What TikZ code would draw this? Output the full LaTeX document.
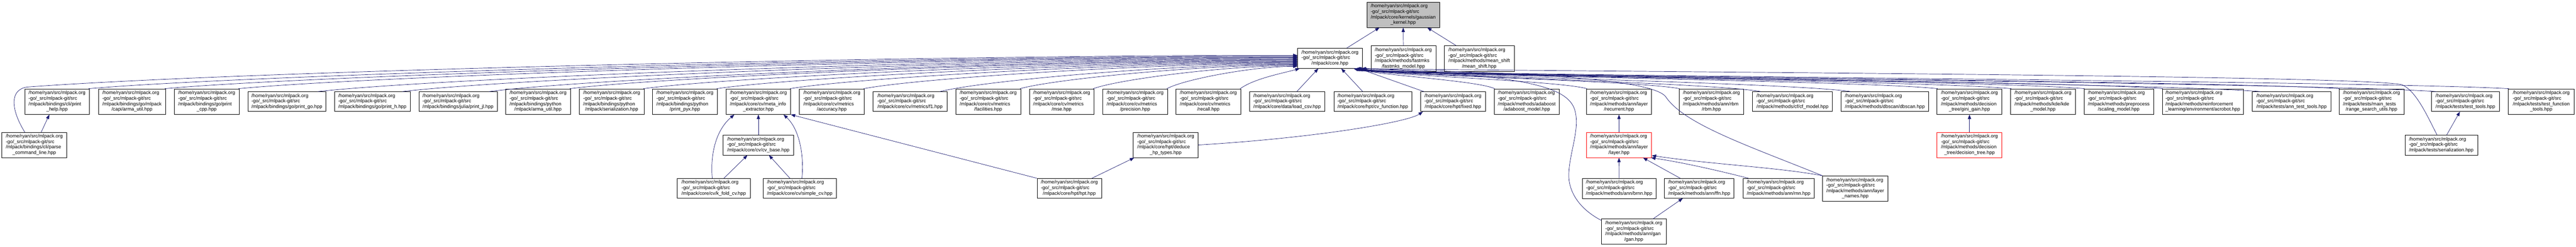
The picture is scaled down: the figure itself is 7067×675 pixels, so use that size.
\documentclass[tikz,border=0pt]{standalone}
\usepackage{fontspec}
\setmainfont{Liberation Sans}
\usetikzlibrary{arrows.meta,calc}
\definecolor{edgeblue}{RGB}{25,25,112}
\definecolor{gkgrey}{RGB}{191,191,191}
\newcommand\fsz{\fontsize{13.25pt}{14.9pt}\selectfont}
\newcommand\ftext[2]{\begin{tabular}{@{}l@{}}/home/ryan/src/mlpack.org\\-go/\_src/mlpack-git/src#1\\\multicolumn{1}{@{}c@{}}{#2}\end{tabular}}
\newcommand\fnode[8][]{\node[fbox,#1,minimum width=#5,minimum height=#6] (#2) at (#3,#4) {\ftext{#7}{#8}};}
\newcommand\ledge[3]{\draw[edge] let \p1=($(#1.north east)+(#2,0)$), \p2=($(core.west)+(0,#3)$) in (\p1) .. controls ({\x1+0.12*(\x2-\x1)},{\y1+0.4*(\y2-\y1)}) and ({\x2-0.35*(\x2-\x1)},{\y2}) .. (\p2);}
\newcommand\redge[3]{\draw[edge] let \p1=($(#1.north west)+(#2,0)$), \p2=($(core.south east)+(#3,0)$) in (\p1) .. controls ({\x1-0.12*(\x1-\x2)},{\y1+0.4*(\y2-\y1)}) and ({\x2+70pt},{\y2-18pt}) .. (\p2);}
\begin{document}
\begin{tikzpicture}[x=1pt,y=-1pt,
  fbox/.style={draw=black, fill=white, line width=0.9pt, inner sep=0pt, font=\fsz},
  edge/.style={draw=edgeblue, line width=1pt, -{Triangle[length=12pt,width=9pt]}}]
\fill[white] (0,0) rectangle (7067,675);
\useasboundingbox (0,0) rectangle (7067,675);
% row 0
\fnode[fill=gkgrey]{gk}{3849.5}{40.5}{199}{69}{\\/mlpack/core/kernels/gaussian}{\_kernel.hpp}
% row 1
\fnode{core}{3648.5}{159.5}{177}{55}{}{/mlpack/core.hpp}
\fnode{fastmks}{3850}{160}{178}{70}{\\/mlpack/methods/fastmks}{/fastmks\_model.hpp}
\fnode{meanshift}{4058}{160}{192}{70}{\\/mlpack/methods/mean\_shift}{/mean\_shift.hpp}
% row 2
\fnode{phelp}{156.4}{278}{177}{70}{\\/mlpack/bindings/cli/print}{\_help.hpp}
\fnode{goarma}{362}{278}{184}{70}{\\/mlpack/bindings/go/mlpack}{/capi/arma\_util.hpp}
\fnode{gocpp}{567}{278}{178}{70}{\\/mlpack/bindings/go/print}{\_cpp.hpp}
\fnode{printgo}{787}{278}{214}{54}{}{/mlpack/bindings/go/print\_go.hpp}
\fnode{printh}{1021.5}{278}{207}{54}{}{/mlpack/bindings/go/print\_h.hpp}
\fnode{printjl}{1256.5}{278}{215}{54}{}{/mlpack/bindings/julia/print\_jl.hpp}
\fnode{pyarma}{1476}{278}{178}{70}{\\/mlpack/bindings/python}{/mlpack/arma\_util.hpp}
\fnode{pyser}{1678}{278}{178}{70}{\\/mlpack/bindings/python}{/mlpack/serialization.hpp}
\fnode{pyx}{1879}{278}{178}{70}{\\/mlpack/bindings/python}{/print\_pyx.hpp}
\fnode{meta}{2080.5}{278}{177}{70}{\\/mlpack/core/cv/meta\_info}{\_extractor.hpp}
\fnode{acc}{2282}{278}{178}{70}{\\/mlpack/core/cv/metrics}{/accuracy.hpp}
\fnode{f1}{2496.5}{278}{203}{54}{}{/mlpack/core/cv/metrics/f1.hpp}
\fnode{fac}{2711}{278}{178}{70}{\\/mlpack/core/cv/metrics}{/facilities.hpp}
\fnode{mse}{2912.5}{278}{177}{70}{\\/mlpack/core/cv/metrics}{/mse.hpp}
\fnode{prec}{3114}{278}{178}{70}{\\/mlpack/core/cv/metrics}{/precision.hpp}
\fnode{recall}{3315}{278}{178}{70}{\\/mlpack/core/cv/metrics}{/recall.hpp}
\fnode{loadcsv}{3531}{278}{206}{54}{}{/mlpack/core/data/load\_csv.hpp}
\fnode{cvfun}{3766}{278}{214}{54}{}{/mlpack/core/hpt/cv\_function.hpp}
\fnode{fixed}{3986}{278}{178}{54}{}{/mlpack/core/hpt/fixed.hpp}
\fnode{adaboost}{4188.5}{278}{179}{70}{\\/mlpack/methods/adaboost}{/adaboost\_model.hpp}
\fnode{recurrent}{4441.5}{278}{179}{70}{\\/mlpack/methods/ann/layer}{/recurrent.hpp}
\fnode{rbm}{4695}{278}{178}{70}{\\/mlpack/methods/ann/rbm}{/rbm.hpp}
\fnode{cfmodel}{4917.5}{278}{219}{54}{}{/mlpack/methods/cf/cf\_model.hpp}
\fnode{dbscan}{5171}{278}{240}{54}{}{/mlpack/methods/dbscan/dbscan.hpp}
\fnode{gini}{5403}{278}{178}{70}{\\/mlpack/methods/decision}{\_tree/gini\_gain.hpp}
\fnode{kde}{5604.5}{278}{177}{70}{\\/mlpack/methods/kde/kde}{\_model.hpp}
\fnode{scaling}{5812.5}{278}{191}{70}{\\/mlpack/methods/preprocess}{/scaling\_model.hpp}
\fnode{acrobot}{6043}{278}{222}{70}{\\/mlpack/methods/reinforcement}{\_learning/environment/acrobot.hpp}
\fnode{anntt}{6286.5}{278}{215}{54}{}{/mlpack/tests/ann\_test\_tools.hpp}
\fnode{rsu}{6506}{278}{178}{70}{\\/mlpack/tests/main\_tests}{/range\_search\_utils.hpp}
\fnode{testtools}{6763.5}{278}{187}{54}{}{/mlpack/tests/test\_tools.hpp}
\fnode{tft}{6971.5}{278}{181}{70}{\\/mlpack/tests/test\_function}{\_tools.hpp}
% row 3
\fnode{pcl}{94}{396.5}{178}{69}{\\/mlpack/bindings/cli/parse}{\_command\_line.hpp}
\fnode{cvbase}{2080.5}{396.5}{193}{55}{}{/mlpack/core/cv/cv\_base.hpp}
\fnode{deduce}{3198}{396.5}{178}{69}{\\/mlpack/core/hpt/deduce}{\_hp\_types.hpp}
\fnode[draw=red]{layer}{4441.5}{396.5}{179}{69}{\\/mlpack/methods/ann/layer}{/layer.hpp}
\fnode[draw=red]{dtree}{5403}{396.5}{178}{69}{\\/mlpack/methods/decision}{\_tree/decision\_tree.hpp}
\fnode{ser}{6697.5}{396.5}{199}{55}{}{/mlpack/tests/serialization.hpp}
% row 4
\fnode{kfold}{1958}{515}{200}{54}{}{/mlpack/core/cv/k\_fold\_cv.hpp}
\fnode{simplecv}{2194}{515}{202}{54}{}{/mlpack/core/cv/simple\_cv.hpp}
\fnode{hpt}{2933.5}{515}{177}{54}{}{/mlpack/core/hpt/hpt.hpp}
\fnode{brnn}{4442}{515}{202}{55}{}{/mlpack/methods/ann/brnn.hpp}
\fnode{ffn}{4661.5}{515}{191}{54}{}{/mlpack/methods/ann/ffn.hpp}
\fnode{rnn}{4879.5}{515}{195}{54}{}{/mlpack/methods/ann/rnn.hpp}
\fnode{lnames}{5089.5}{515.5}{179}{69}{\\/mlpack/methods/ann/layer}{\_names.hpp}
% row 5
\fnode{gan}{4482}{633.5}{178}{69}{\\/mlpack/methods/ann/gan}{/gan.hpp}

% edges to gaussian kernel
\draw[edge] ($(core.north)+(46,0)$) -- ($(gk.south west)+(35,0)$);
\draw[edge] (fastmks.north) -- (gk.south);
\draw[edge] ($(meanshift.north west)+(33,0)$) -- ($(gk.south east)+(-34,0)$);
% near edges to core
\draw[edge] ($(loadcsv.north west)+(130,0)$) -- ($(core.south west)+(57,0)$);
\draw[edge] ($(cvfun.north west)+(80,0)$) -- ($(core.south west)+(120,0)$);
\draw[edge] ($(fixed.north west)+(10,0)$) -- ($(core.south east)+(-10,0)$);
% left edges to core
\draw[edge] ($(pcl.north)+(-26,0)$) .. controls (30,300) and (25,245) .. (75,238) .. controls (700,192) and (2600,150) .. ($(core.west)+(0,-8)$);
\ledge{phelp}{-2}{-6}
\ledge{goarma}{-2}{-4}
\ledge{gocpp}{-2}{-2}
\ledge{printgo}{-23}{0}
\ledge{printh}{-22}{2}
\ledge{printjl}{-23}{4}
\ledge{pyarma}{-2}{6}
\ledge{pyser}{-2}{8}
\ledge{pyx}{-2}{10}
\ledge{meta}{-2}{12}
\ledge{acc}{-2}{14}
\ledge{f1}{-20}{16}
\ledge{fac}{-2}{18}
\ledge{mse}{-2}{20}
\ledge{prec}{-2}{22}
\draw[edge] ($(recall.north east)+(-2,0)$) .. controls (3440,215) and (3520,200) .. ($(core.south west)+(6,0)$);
% right edges to core
\redge{adaboost}{2}{-24}
\redge{recurrent}{2}{-21}
\redge{rbm}{2}{-19}
\redge{cfmodel}{23}{-17}
\redge{dbscan}{27}{-15}
\redge{gini}{2}{-13}
\redge{kde}{2}{-11}
\redge{scaling}{2}{-9}
\redge{acrobot}{2}{-7}
\redge{anntt}{23}{-5}
\redge{rsu}{2}{-3}
\redge{testtools}{15}{-1}
\redge{tft}{2}{0}
\draw[edge] ($(gan.north west)+(0,4)$) .. controls (4330,570) and (4300,520) .. (4304,470) .. controls (4308,410) and (4335,350) .. (4320,300) .. controls (4300,240) and (4200,205) .. ($(core.south east)+(-18,0)$);
\draw[edge] (lnames.north west) .. controls (4800,400) and (4620,340) .. (4570,265) .. controls (4530,210) and (4100,198) .. ($(core.south east)+(-14,0)$);
\draw[edge] ($(ser.north)+(-12,0)$) .. controls (6660,320) and (6630,250) .. (6590,232) .. controls (6500,205) and (4300,196) .. ($(core.south east)+(-2,0)$);
% cv
\draw[edge] ($(kfold.north)+(-4,0)$) .. controls (1948,420) and (1965,355) .. ($(meta.south west)+(23,0)$);
\draw[edge] ($(kfold.north)+(28,0)$) -- ($(cvbase.south)+(-30,0)$);
\draw[edge] ($(simplecv.north)+(-27,0)$) -- ($(cvbase.south)+(29,0)$);
\draw[edge] ($(simplecv.north)+(6,0)$) .. controls (2206,430) and (2195,355) .. ($(meta.south east)+(-20,0)$);
\draw[edge] (cvbase.north) -- (meta.south);
% hpt
\draw[edge] (hpt.north west) -- (meta.south east);
\draw[edge] ($(hpt.north)+(62,0)$) -- ($(deduce.south west)+(3,0)$);
\draw[edge] (deduce.east) .. controls (3600,378) and (3860,335) .. ($(fixed.south west)+(7,0)$);
% misc
\draw[edge] ($(pcl.north)+(19,0)$) -- ($(phelp.south)+(-21,0)$);
\draw[edge] (dtree.north) -- (gini.south);
\draw[edge] ($(ser.north)+(15,0)$) -- ($(testtools.south)+(-15,0)$);
% ann
\draw[edge] (layer.north) -- (recurrent.south);
\draw[edge] (brnn.north) -- (layer.south);
\draw[edge] ($(ffn.north)+(-52,0)$) -- ($(layer.south east)+(-24,0)$);
\draw[edge] ($(gan.north)+(53,0)$) -- ($(ffn.south)+(-45,0)$);
\draw[edge] ($(rnn.north west)+(15,0)$) .. controls (4720,468) and (4620,445) .. ($(layer.south east)+(-2,0)$);
\draw[edge] (lnames.north west) .. controls (4880,458) and (4700,450) .. ($(layer.south east)+(0,-6)$);
\end{tikzpicture}
\end{document}
